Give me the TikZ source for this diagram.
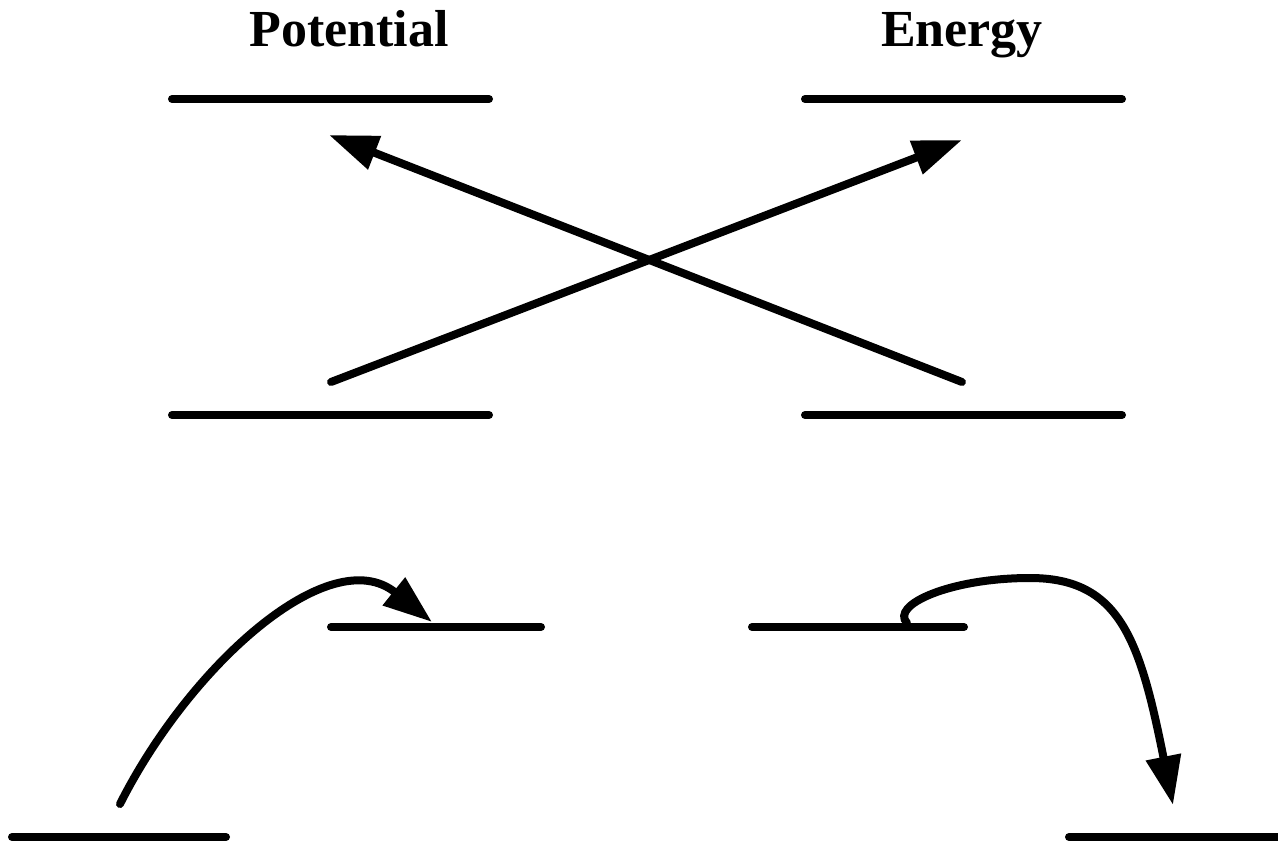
\documentclass[tikz,border=0pt]{standalone}
\usepackage{fontspec}
\setmainfont{Liberation Serif}
\usetikzlibrary{arrows.meta}
\begin{document}
\begin{tikzpicture}[x=1pt,y=-1pt,
  level/.style={line width=8pt,line cap=round},
  arr/.style={line width=8pt,line cap=round,-{Triangle[length=49pt,width=34pt]}},
  title/.style={font=\fontsize{52}{58}\selectfont\bfseries,anchor=base,inner sep=0pt}]
\useasboundingbox (0,0) rectangle (1278,841);
% titles
\node[title] (tpot) at (349,46) {Potential};
\node[title] (tene) at (962,46) {Energy};
% level lines
\coordinate (a1) at (172,99);  \coordinate (a2) at (489,99);
\coordinate (b1) at (805,99);  \coordinate (b2) at (1122,99);
\coordinate (c1) at (172,415); \coordinate (c2) at (489,415);
\coordinate (d1) at (805,415); \coordinate (d2) at (1122,415);
\coordinate (e1) at (331,627); \coordinate (e2) at (541,627);
\coordinate (f1) at (752,627); \coordinate (f2) at (964,627);
\coordinate (g1) at (12,837);  \coordinate (g2) at (226,837);
\coordinate (h1) at (1069,837); \coordinate (h2) at (1290,837);
\foreach \p in {a,b,c,d,e,f,g,h} \draw[level] (\p1) -- (\p2);
% arrow endpoints
\coordinate (s1) at (962,382); \coordinate (t1) at (329,135);
\coordinate (s2) at (331,382); \coordinate (t2) at (962,140);
\coordinate (s3) at (120,804); \coordinate (t3) at (432,622);
\coordinate (s4) at (907,623); \coordinate (m4) at (1030,578); \coordinate (t4) at (1173,805);
\draw[arr] (s1) -- (t1);
\draw[arr] (s2) -- (t2);
\draw[arr] (s3) .. controls (190,665) and (330,540) .. (t3);
\draw[arr] (s4) .. controls (890,605) and (950,578) .. (m4)
           .. controls (1120,578) and (1140,640) .. (t4);
\end{tikzpicture}
\end{document}
